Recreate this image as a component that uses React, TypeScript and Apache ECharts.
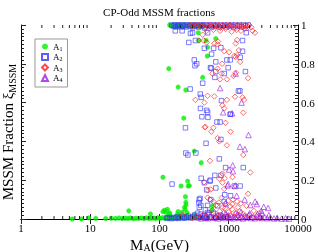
import React, { useEffect, useRef } from "react";
import * as echarts from "echarts";

// [mass (GeV), MSSM fraction]
const a1Points: [number, number][] = [
  [5.5, 0], [7.5, 0], [9.5, 0.006], [12, 0.003], [16.7, 0.002], [20, 0.004], [23, 0.003], [26, 0.005], [29, 0.002],
  [32, 0.004], [35, 0.003], [38, 0.005], [42, 0.002], [46, 0.004], [50, 0.003], [55, 0.005], [60, 0.002], [65, 0.006],
  [70, 0.003], [76, 0.004], [82, 0.005], [88, 0.002], [95, 0.006], [102, 0.004], [110, 0.007], [118, 0.003], [127, 0.01],
  [136, 0.005], [145, 0.008], [155, 0.004], [165, 0.009], [175, 0.005], [185, 0.01], [195, 0.005], [210, 0.008],
  [225, 0.004], [240, 0.01], [260, 0.006], [280, 0.009], [300, 0.005], [320, 0.008], [350, 0.006], [380, 0.01], [420, 0.007],
  [36, 0.042], [74, 0.026], [112, 0.038], [118, 0.045], [122, 0.036], [130, 0.05], [136, 0.026], [140, 0.032], [144, 0.016],
  [180, 0.022], [185, 0.038], [189, 0.02], [211, 0.035], [230, 0.06], [234, 0.05], [230, 0.015], [240, 0.086], [242, 0.073],
  [237, 0.115], [250, 0.033], [255, 0.015], [318, 0.022], [570, 0.045], [580, 0.068],
  [112, 0.215], [205, 0.17], [260, 0.17], [270, 0.172], [255, 0.195], [400, 0.29], [318, 0.35], [224, 0.52], [240, 0.665],
  [186, 0.68], [420, 0.73], [136, 0.775], [490, 0.84], [495, 0.885], [370, 0.92], [470, 0.92], [650, 0.93], [363, 0.96],
  [140, 1], [150, 0.995], [160, 1], [170, 0.99], [180, 1], [190, 0.995], [200, 1], [215, 0.99], [230, 1], [250, 0.995],
  [270, 1], [290, 0.99], [310, 1], [330, 0.995], [350, 1], [380, 0.99], [410, 1], [440, 0.995],
];

const a2Points: [number, number][] = [
  [150, 1], [158, 0.995], [165, 1], [172, 0.99], [180, 1], [188, 0.995], [196, 1], [205, 0.99], [215, 1], [225, 0.995],
  [235, 1], [245, 0.99], [255, 1], [270, 0.995], [285, 1], [300, 0.99], [315, 1], [330, 0.995], [350, 1], [370, 0.99],
  [390, 1], [410, 0.995], [430, 1], [450, 0.985], [480, 1], [510, 0.995], [540, 1], [570, 0.99], [600, 1], [640, 0.995],
  [680, 1], [720, 0.99], [770, 1], [820, 0.995], [870, 1], [920, 0.99], [980, 1], [1040, 0.995], [1100, 1], [1170, 0.99],
  [1250, 1], [1330, 0.995], [1420, 1], [1520, 0.99], [1620, 1], [1750, 0.995], [1900, 1],
  [169, 0.97], [212, 0.97], [280, 0.957], [300, 0.96], [265, 0.91], [330, 0.92], [325, 0.79], [345, 0.8], [318, 0.82],
  [445, 0.88], [560, 0.777], [277, 0.67], [388, 0.644], [420, 0.7], [400, 0.627], [390, 0.57], [480, 0.56], [410, 0.527],
  [500, 0.524], [495, 0.96], [545, 0.78], [650, 0.81], [605, 0.88], [770, 0.883], [940, 0.82], [1050, 0.82], [1460, 0.834],
  [1580, 0.865], [1790, 0.96], [1580, 0.92], [650, 0.76], [630, 0.73], [860, 0.75], [980, 0.78], [1740, 0.76], [1450, 0.66],
  [1380, 0.66], [785, 0.61], [1050, 0.54], [565, 0.85],
  [237, 0.47], [240, 0.34], [257, 0.33], [335, 0.34], [470, 0.39], [495, 0.55], [675, 0.5], [750, 0.5], [1060, 0.54],
  [770, 0.41], [730, 0.31], [900, 0.265], [1620, 0.265], [630, 0.225], [770, 0.225], [400, 0.21], [445, 0.187], [540, 0.2],
  [152, 0.18], [535, 0.195], [1460, 0.17], [1200, 0.17], [650, 0.16], [480, 0.15], [875, 0.125], [1060, 0.12], [386, 0.106],
  [375, 0.1], [550, 0.1], [860, 0.09], [370, 0.085], [395, 0.07], [495, 0.07], [690, 0.068], [375, 0.06], [460, 0.047],
  [495, 0.033], [355, 0.03], [445, 0.015], [127, 0.007],
  [132, 0.003], [140, 0.006], [150, 0.002], [160, 0.008], [170, 0.004], [180, 0.01], [190, 0.003], [200, 0.007], [215, 0.012],
  [230, 0.004], [245, 0.009], [260, 0.015], [280, 0.005], [300, 0.011], [320, 0.02], [340, 0.006], [360, 0.014], [390, 0.025],
  [420, 0.008], [450, 0.018], [480, 0.004], [520, 0.022], [560, 0.01], [600, 0.03], [650, 0.006], [700, 0.015], [760, 0.02],
  [830, 0.008], [900, 0.012],
];

const a3Points: [number, number][] = [
  [280, 1], [300, 0.995], [320, 1], [345, 0.99], [370, 1], [400, 0.995], [430, 1], [460, 0.985], [490, 1], [520, 0.995],
  [550, 1], [590, 0.99], [630, 1], [670, 0.995], [710, 1], [760, 0.985], [810, 1], [860, 0.995], [920, 1], [980, 0.99],
  [1040, 1], [1110, 0.995], [1180, 1], [1260, 0.985], [1340, 1], [1430, 0.995], [1520, 1], [1620, 0.99], [1730, 1],
  [1850, 0.995], [1980, 1],
  [600, 0.975], [750, 0.97], [900, 0.98], [1100, 0.965], [1300, 0.975], [1500, 0.97], [1700, 0.98], [480, 0.97],
  [370, 0.92], [420, 0.95], [435, 0.92], [480, 0.91], [620, 0.905], [690, 0.9], [700, 0.915], [1260, 0.905], [1320, 0.923],
  [1850, 0.984], [2120, 0.988], [2200, 0.97], [2390, 0.96], [1400, 0.87], [860, 0.865], [1010, 0.86], [1320, 0.845],
  [1260, 0.836], [1200, 0.84], [800, 0.8], [1460, 0.81], [790, 0.75], [580, 0.75], [690, 0.775], [1260, 0.754], [1170, 0.737],
  [1900, 0.726], [940, 0.72], [750, 0.72], [330, 0.614], [445, 0.6], [495, 0.635], [620, 0.632], [1230, 0.63], [1580, 0.627],
  [1660, 0.614], [940, 0.614], [810, 0.586], [860, 0.57], [1620, 0.548],
  [460, 0.475], [450, 0.473], [600, 0.47], [560, 0.45], [1060, 0.45], [900, 0.496], [690, 0.417], [730, 0.4], [940, 0.38],
  [1620, 0.33], [535, 0.3], [2050, 0.24], [810, 0.234], [1130, 0.216], [875, 0.21], [730, 0.207], [440, 0.19], [810, 0.187],
  [1260, 0.173], [550, 0.152], [860, 0.155], [500, 0.147], [1900, 0.13], [790, 0.11], [495, 0.11], [535, 0.1], [1320, 0.09],
  [1130, 0.077], [1800, 0.068], [2300, 0.042], [2750, 0.03], [215, 0.02],
  [650, 0.07], [720, 0.085], [820, 0.06], [980, 0.095], [1050, 0.065], [1150, 0.1], [1350, 0.06], [1500, 0.08], [600, 0.09],
  [900, 0.08],
  [300, 0.005], [340, 0.012], [380, 0.004], [420, 0.02], [460, 0.008], [500, 0.03], [540, 0.012], [580, 0.045], [620, 0.006],
  [660, 0.025], [700, 0.015], [740, 0.04], [790, 0.008], [840, 0.03], [890, 0.055], [950, 0.012], [1000, 0.035], [1060, 0.02],
  [1120, 0.05], [1200, 0.01], [1280, 0.03], [1360, 0.015], [1450, 0.04], [1550, 0.008], [1650, 0.025], [1800, 0.012],
  [2000, 0.02], [2200, 0.006], [2500, 0.015], [2900, 0.005],
];

const a4Points: [number, number][] = [
  [750, 0.675], [1260, 0.75], [1530, 0.6], [830, 0.55], [1120, 0.545], [1930, 0.433], [1450, 0.373], [1710, 0.36],
  [1140, 0.277], [1010, 0.255], [1150, 0.246], [960, 0.173], [1230, 0.17], [980, 0.18], [2050, 0.072], [2950, 0.042],
  [3700, 0.057], [3200, 0.063], [2550, 0.077], [1700, 0.1], [2400, 0.09], [1300, 0.12], [900, 0.08],
  [400, 0.003], [450, 0.008], [500, 0.004], [550, 0.012], [600, 0.006], [650, 0.015], [700, 0.003], [750, 0.01], [800, 0.018],
  [860, 0.005], [920, 0.012], [980, 0.02], [1040, 0.006], [1100, 0.014], [1170, 0.004], [1250, 0.01], [1330, 0.022],
  [1420, 0.006], [1510, 0.012], [1600, 0.003], [1700, 0.016], [1800, 0.008], [1950, 0.02], [2100, 0.005], [2250, 0.012],
  [2400, 0.004], [2600, 0.01], [2800, 0.015], [3000, 0.005], [3300, 0.01], [3600, 0.004], [4000, 0.008], [4500, 0.003],
  [5000, 0.006], [5800, 0.002], [6600, 0.004], [7400, 0.002], [1250, 0.03], [1500, 0.035], [2000, 0.03], [900, 0.028],
  [2600, 0.025], [3000, 0.03], [3800, 0.02],
];

const xTickLabels = ["1", "10", "100", "1000", "10000"];
const xMinorTicks = [
  2, 3, 4, 5, 6, 7, 8, 9, 20, 30, 40, 50, 60, 70, 80, 90, 200, 300, 400, 500, 600, 700, 800, 900,
  2000, 3000, 4000, 5000, 6000, 7000, 8000, 9000,
];

const FONT = "'Liberation Serif', 'DejaVu Serif', serif";

export default function App() {
  const ref = useRef<HTMLDivElement>(null);
  useEffect(() => {
    if (!ref.current) return;
    const chart = echarts.init(ref.current, null, { renderer: "svg" });
    const tickStyle = { color: "#222", width: 1 };
    const xBase = {
      type: "log" as const,
      logBase: 10,
      min: 1,
      max: 10000,
      axisLine: { show: true, lineStyle: { color: "#000", width: 1 } },
      axisTick: { show: true, inside: true, length: 5, lineStyle: tickStyle },
      splitLine: { show: false },
    };
    const yBase = {
      type: "value" as const,
      min: 0,
      max: 1,
      interval: 0.2,
      axisLine: { show: true, lineStyle: { color: "#000", width: 1 } },
      axisTick: { show: true, inside: true, length: 5, lineStyle: tickStyle },
      minorTick: { show: true, splitNumber: 10, length: 3, lineStyle: tickStyle },
      splitLine: { show: false },
      minorSplitLine: { show: false },
    };
    chart.setOption({
      animation: false,
      title: {
        text: "CP-Odd MSSM fractions",
        left: "center",
        top: 1,
        textStyle: { fontFamily: FONT, fontSize: 11, fontWeight: "normal", color: "#000" },
      },
      grid: { left: 21, right: 20, top: 25, bottom: 33, containLabel: false, outerBoundsMode: "none" },
      legend: {
        data: ["A1", "A2", "A3", "A4"],
        orient: "vertical",
        left: 35,
        top: 39,
        padding: [3, 5, 4, 6],
        itemWidth: 6,
        itemHeight: 6,
        itemGap: 1,
        borderColor: "#999",
        borderWidth: 1,
        formatter: (name: string) => `{b|${name[0]}}{s|${name.slice(1)}}`,
        textStyle: {
          fontFamily: FONT,
          color: "#000",
          rich: {
            b: { fontFamily: FONT, fontSize: 9, lineHeight: 10, color: "#000" },
            s: { fontFamily: FONT, fontSize: 6, padding: [4, 0, 0, 0], color: "#000" },
          },
        },
      },
      xAxis: [
        {
          ...xBase,
          position: "bottom",
          axisLabel: {
            show: true,
            margin: 3,
            fontFamily: FONT,
            fontSize: 11,
            color: "#000",
            formatter: (v: number) => xTickLabels[Math.round(Math.log10(v))] ?? "",
          },
          name: "{m|M}{s|A}{m|(GeV)}",
          nameLocation: "middle",
          nameGap: 2,
          nameTextStyle: {
            rich: {
              m: { fontFamily: FONT, fontSize: 15, lineHeight: 15, color: "#000" },
              s: { fontFamily: FONT, fontSize: 10, padding: [5, 0, 0, 0], color: "#000" },
            },
          },
        },
        { ...xBase, position: "top", axisLabel: { show: false } },
      ],
      yAxis: [
        {
          ...yBase,
          position: "left",
          axisLabel: { show: false },
          name: "{m|MSSM Fraction ξ}{s|MSSM}",
          nameLocation: "middle",
          nameGap: 4,
          nameTextStyle: {
            padding: [0, 20, 0, 0],
            rich: {
              m: { fontFamily: FONT, fontSize: 15, color: "#000" },
              s: { fontFamily: FONT, fontSize: 10, padding: [8, 0, 0, 0], color: "#000" },
            },
          },
        },
        {
          ...yBase,
          position: "right",
          axisLabel: { show: true, margin: 3, fontFamily: FONT, fontSize: 11, color: "#000" },
        },
      ],
      series: [
        {
          name: "A1",
          type: "scatter",
          data: a1Points,
          symbol: "circle",
          symbolSize: 5,
          itemStyle: { color: "#00ee00" },
        },
        {
          name: "A2",
          type: "scatter",
          data: a2Points,
          symbol: "rect",
          symbolSize: 4.5,
          itemStyle: { color: "rgba(0,0,0,0)", borderColor: "#3333ff", borderWidth: 0.8 },
        },
        {
          name: "A3",
          type: "scatter",
          data: a3Points,
          symbol: "diamond",
          symbolSize: 5.5,
          itemStyle: { color: "rgba(0,0,0,0)", borderColor: "#ff1a1a", borderWidth: 0.8 },
        },
        {
          name: "A4",
          type: "scatter",
          data: a4Points,
          symbol: "triangle",
          symbolSize: 5.5,
          itemStyle: { color: "rgba(0,0,0,0)", borderColor: "#9a1ee0", borderWidth: 0.8 },
        },
        {
          name: "xMinor",
          type: "custom",
          silent: true,
          clip: false,
          z: 10,
          data: xMinorTicks.map((v) => [v, 0]),
          encode: { x: 0, y: 1 },
          renderItem: (_params: any, api: any) => {
            const v = api.value(0);
            const pb = api.coord([v, 0]);
            const pt = api.coord([v, 1]);
            return {
              type: "group",
              children: [
                { type: "line", shape: { x1: pb[0], y1: pb[1], x2: pb[0], y2: pb[1] - 3 }, style: { stroke: "#222", lineWidth: 1 } },
                { type: "line", shape: { x1: pt[0], y1: pt[1], x2: pt[0], y2: pt[1] + 3 }, style: { stroke: "#222", lineWidth: 1 } },
              ],
            };
          },
        },
      ],
    });
    return () => chart.dispose();
  }, []);
  return <div ref={ref} style={{ position: "fixed", left: 0, top: 0, width: 318, height: 252 }} />;
}
